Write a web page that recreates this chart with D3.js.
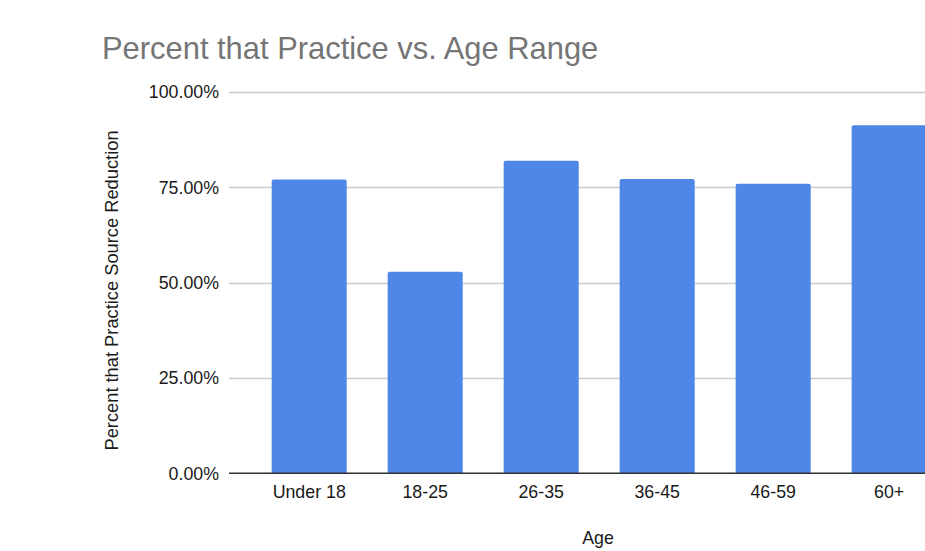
<!DOCTYPE html>
<html>
<head>
<meta charset="utf-8">
<script src="https://cdn.jsdelivr.net/npm/d3@7"></script>
<style>
  html, body { margin: 0; padding: 0; background: #fff; overflow: hidden; }
  svg { display: block; font-family: "Liberation Sans", Arial, Helvetica, sans-serif; }
</style>
</head>
<body>
<svg id="chart" width="925" height="551"></svg>
<script>
const categories = ["Under 18", "18-25", "26-35", "36-45", "46-59", "60+"];
const values = [77.0, 52.8, 81.9, 77.1, 75.9, 91.2];
const yTicks = [0, 25, 50, 75, 100];
const titleText = "Percent that Practice vs. Age Range";
const xTitle = "Age";
const yTitle = "Percent that Practice Source Reduction";

const svg = d3.select("#chart");
const plotLeft = 229, plotRight = 969.4, plotTop = 91.7, plotBottom = 473.3;

const x = d3.scaleBand().domain(categories).range([plotLeft, plotRight])
  .paddingInner(0.353).paddingOuter(0.368);
const y = d3.scaleLinear().domain([0, 100]).range([plotBottom, plotTop]);

// gridlines
svg.append("g").selectAll("line").data(yTicks.filter(d => d !== 0)).join("line")
  .attr("x1", plotLeft).attr("x2", 925)
  .attr("y1", d => Math.round(y(d)) + 0.5).attr("y2", d => Math.round(y(d)) + 0.5)
  .attr("stroke", "#cccccc").attr("stroke-width", 1.3);

// y tick labels
svg.append("g").selectAll("text").data(yTicks).join("text")
  .attr("x", 219).attr("y", d => y(d)).attr("dy", "0.36em")
  .attr("text-anchor", "end").attr("font-size", 17.8).attr("fill", "#1a1a1a")
  .text(d => d.toFixed(2) + "%");

// bars with slightly rounded top corners
const r = 2;
svg.append("g").selectAll("path").data(values).join("path")
  .attr("fill", "#4f87e9")
  .attr("d", (d, i) => {
    const x0 = x(categories[i]), w = x.bandwidth(), y0 = y(d), yb = y(0);
    return `M${x0},${yb}V${y0 + r}Q${x0},${y0} ${x0 + r},${y0}H${x0 + w - r}Q${x0 + w},${y0} ${x0 + w},${y0 + r}V${yb}Z`;
  });

// zero baseline
svg.append("line").attr("x1", plotLeft).attr("x2", 925)
  .attr("y1", y(0)).attr("y2", y(0))
  .attr("stroke", "#333").attr("stroke-width", 1.5);

// x tick labels
svg.append("g").selectAll("text").data(categories).join("text")
  .attr("x", d => x(d) + x.bandwidth() / 2).attr("y", 498)
  .attr("text-anchor", "middle").attr("font-size", 17.8).attr("fill", "#1a1a1a")
  .text(d => d);

// title
svg.append("text").attr("x", 102).attr("y", 59)
  .attr("font-size", 30.9).attr("fill", "#757575").text(titleText);

// axis titles
svg.append("text").attr("x", 598).attr("y", 544)
  .attr("text-anchor", "middle").attr("font-size", 17.8).attr("fill", "#1a1a1a").text(xTitle);

svg.append("text").attr("transform", "translate(117.5,290.5) rotate(-90)")
  .attr("text-anchor", "middle").attr("font-size", 18.3).attr("fill", "#1a1a1a").text(yTitle);
</script>
</body>
</html>
